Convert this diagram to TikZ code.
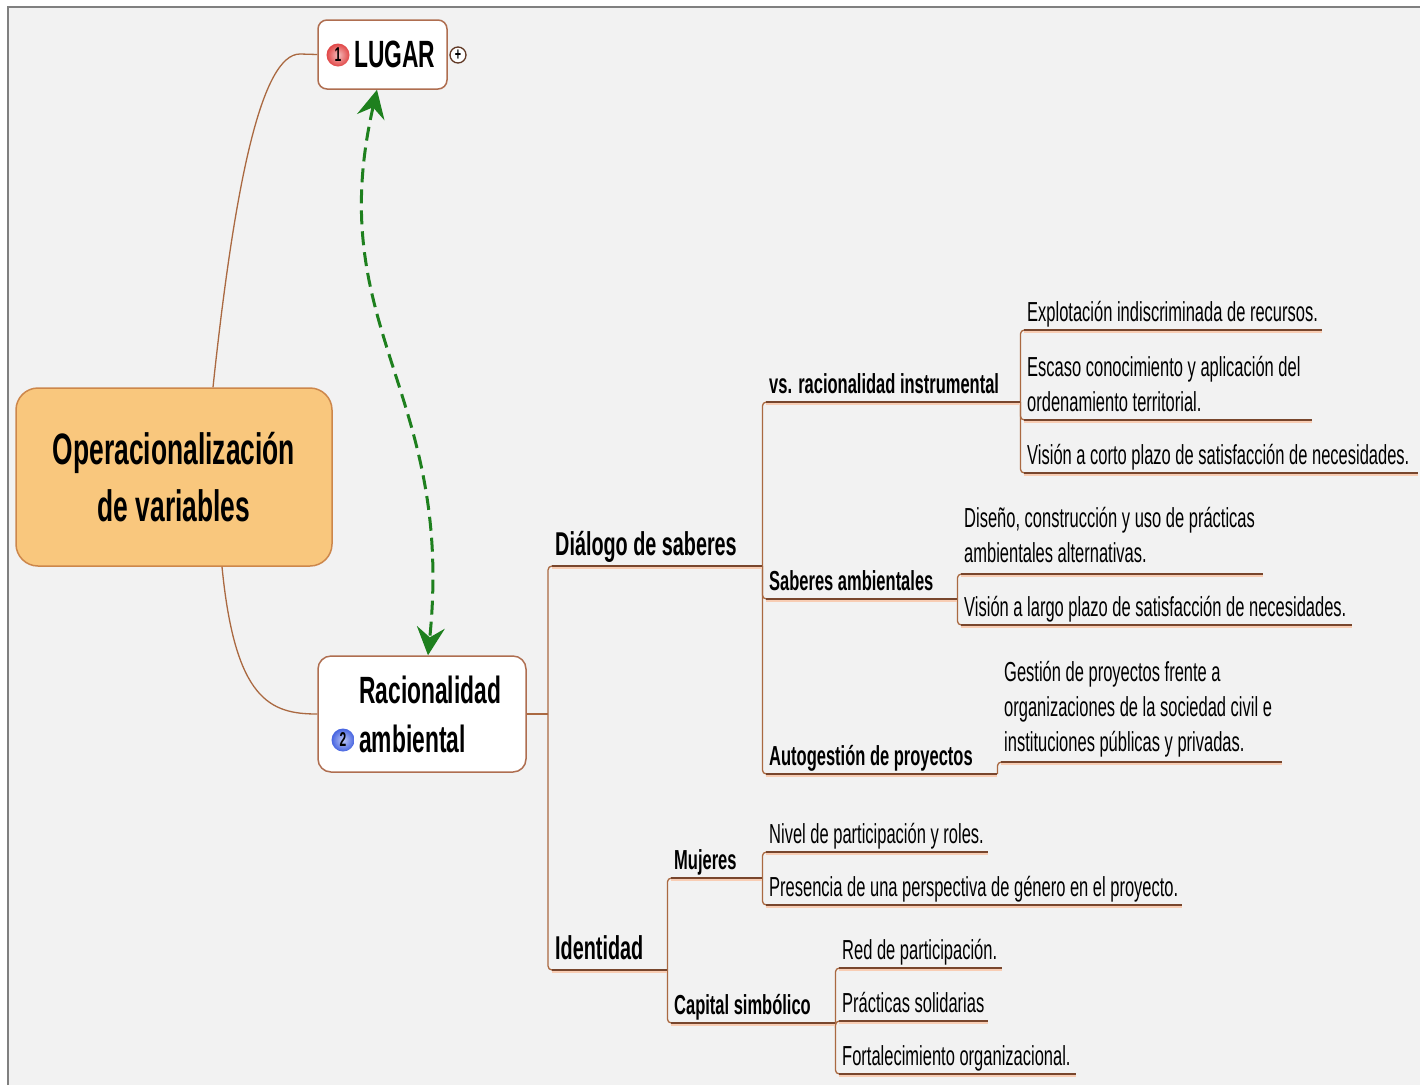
\documentclass[tikz,border=0pt]{standalone}
\usepackage{fontspec}
\setmainfont{Liberation Sans}[FakeStretch=0.6]
\usetikzlibrary{arrows.meta,calc}
\definecolor{bg}{RGB}{242,242,242}
\definecolor{ulbrown}{RGB}{120,70,45}
\definecolor{halo}{RGB}{248,205,180}
\definecolor{conn}{RGB}{170,105,65}
\definecolor{orangefill}{RGB}{249,199,125}
\definecolor{orangeedge}{RGB}{205,135,75}
\definecolor{nodeedge}{RGB}{175,110,80}
\definecolor{arrowgreen}{RGB}{30,128,30}
\definecolor{badgered}{RGB}{225,70,70}
\definecolor{badgeblue}{RGB}{70,100,225}
\newcommand{\ub}[2]{\makebox[#1pt][l]{#2}}
\begin{document}
\begin{tikzpicture}[x=1pt,y=-1pt,
 leaf/.style={anchor=south west, inner xsep=3pt, inner ysep=8pt, text depth=0pt, align=left, font=\fontsize{27.5}{35}\selectfont},
 sub/.style={leaf, font=\fontsize{27.5}{35}\selectfont\bfseries},
 topsub/.style={leaf, inner ysep=10pt, font=\fontsize{33}{38}\selectfont\bfseries},
 ul/.style={draw=ulbrown, line width=2.2pt, preaction={draw=halo, line width=3.5pt, transform canvas={yshift=-1.4pt}}},
 link/.style={draw=conn, line width=1.3pt, rounded corners=4pt},
 curve/.style={draw=conn, line width=1.3pt},
 topic/.style={draw=nodeedge, fill=white, line width=1.5pt, rounded corners=9pt},
 badge/.style={circle, inner sep=0pt, minimum size=23pt, draw=none, font=\fontsize{20}{20}\selectfont\bfseries},
 central/.style={draw=orangeedge, fill=orangefill, line width=1.5pt, rounded corners=22pt, minimum width=316pt, minimum height=178pt, align=center, font=\fontsize{44}{57}\selectfont\bfseries}
]
\useasboundingbox (0,0) rectangle (1420,1085);
\fill[white] (0,0) rectangle (1420,1085);
\fill[bg] (8,7) rectangle (1420,1085);
\draw[gray, line width=2pt] (8,1085) -- (8,7) -- (1420,7);

% main nodes
\node[central] (c) at (174,477) {Operacionalización\\de variables};
\node[topic, minimum width=129pt, minimum height=69pt] (lugar) at (382.5,54.5) {};
\node[anchor=base west, inner sep=0pt, font=\fontsize{38}{38}\selectfont\bfseries] (lugarT) at (354,67) {LUGAR};
\node[badge, inner color=badgered!35, outer color=badgered] (b1) at (338,55) {1};
\node[circle, draw=ulbrown!80!black, fill=white, line width=1.3pt, minimum size=16pt, inner sep=0pt, font=\fontsize{18}{18}\selectfont\bfseries] (plus) at (458,55) {+};
\node[topic, rounded corners=13pt, minimum width=208pt, minimum height=116pt] (rac) at (422,714) {};
\node[anchor=base west, inner sep=0pt, font=\fontsize{38}{49}\selectfont\bfseries] (racT) at (359,703) {Racionalidad};
\node[anchor=base west, inner sep=0pt, font=\fontsize{38}{49}\selectfont\bfseries] (ambT) at (359,752) {ambiental};
\node[badge, inner color=badgeblue!35, outer color=badgeblue] (b2) at (343,740) {2};

% curves from central topic
\draw[curve] ([xshift=39pt]c.north) .. controls (235,180) and (262,54) .. (300,54) -- (lugar.west);
\draw[curve] ([xshift=48pt]c.south) .. controls (235,700) and (270,714) .. (rac.west);

% subtopics
\node[topsub] (dia) at (552,566) {\ub{204}{Diálogo de saberes}};
\node[topsub] (ide) at (552,970) {\ub{109}{Identidad}};
\node[sub] (vsr) at (766,402) {\ub{248}{vs. racionalidad instrumental}};
\node[sub] (sab) at (766,599) {\ub{185}{Saberes ambientales}};
\node[sub] (aut) at (766,774) {\ub{225}{Autogestión de proyectos}};
\node[leaf] (exp) at (1024,330) {\ub{292}{Explotación indiscriminada de recursos.}};
\node[leaf] (esc) at (1024,420) {\ub{282}{Escaso conocimiento y aplicación del}\\ordenamiento territorial.};
\node[leaf] (vco) at (1024,473) {\ub{388}{Visión a corto plazo de satisfacción de necesidades.}};
\node[leaf, inner ysep=11pt] (dis) at (961,574) {\ub{296}{Diseño, construcción y uso de prácticas}\\ambientales alternativas.};
\node[leaf] (vla) at (961,625) {\ub{385}{Visión a largo plazo de satisfacción de necesidades.}};
\node[leaf, inner ysep=10pt] (ges) at (1001,762) {\ub{275}{Gestión de proyectos frente a}\\organizaciones de la sociedad civil e\\instituciones públicas y privadas.};
\node[sub] (muj) at (671,878) {\ub{85}{Mujeres}};
\node[sub] (cap) at (671,1023) {\ub{158}{Capital simbólico}};
\node[leaf] (niv) at (766,852) {\ub{216}{Nivel de participación y roles.}};
\node[leaf] (pre) at (766,905) {\ub{410}{Presencia de una perspectiva de género en el proyecto.}};
\node[leaf] (red) at (839,968) {\ub{157}{Red de participación.}};
\node[leaf] (pra) at (839,1021) {\ub{143}{Prácticas solidarias}};
\node[leaf] (fort) at (839,1074) {\ub{231}{Fortalecimiento organizacional.}};

% links
\coordinate (rj) at (548,714);
\draw[curve] (rac.east) -- (rj);
\draw[link] (rj) |- (dia.south west);
\draw[link] (rj) |- (ide.south west);
\foreach \p/\ch in {dia/vsr, dia/sab, dia/aut, vsr/exp, vsr/esc, vsr/vco, sab/dis, sab/vla, aut/ges, ide/muj, ide/cap, muj/niv, muj/pre, cap/red, cap/pra, cap/fort}
  \draw[link] (\p.south east) |- (\ch.south west);

% underlines
\foreach \n in {dia,ide,vsr,sab,aut,exp,esc,vco,dis,vla,ges,muj,cap,niv,pre,red,pra,fort}
  \draw[ul] (\n.south west) -- (\n.south east);

% green relation
\draw[arrowgreen, line width=3pt, dash pattern=on 14pt off 7pt,
  {Stealth[length=28pt,width=28pt,inset=10pt]}-{Stealth[length=28pt,width=28pt,inset=10pt]}]
  (lugar.south -| 377,0) .. controls (322,330) and (455,390) .. (rac.north -| 428,0);
\end{tikzpicture}
\end{document}
